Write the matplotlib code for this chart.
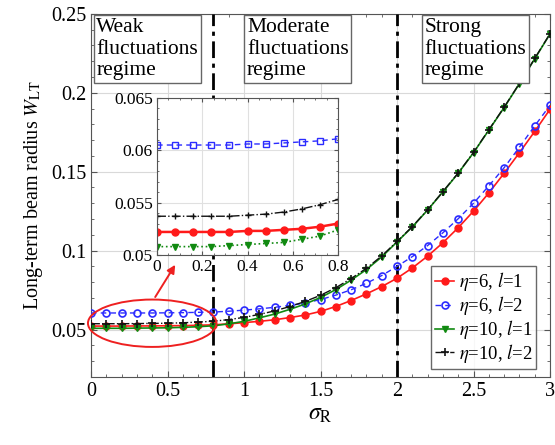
import matplotlib
matplotlib.use("Agg")
import matplotlib.pyplot as plt
from matplotlib.patches import Ellipse
from matplotlib.ticker import MultipleLocator

plt.rcParams['font.family'] = ['Liberation Serif', 'DejaVu Serif']
plt.rcParams['mathtext.fontset'] = 'stix'

# ---------------- data ----------------
sigma = [0.0, 0.1, 0.2, 0.3, 0.4, 0.5, 0.6, 0.7, 0.8, 0.9, 1.0,
         1.1, 1.2, 1.3, 1.4, 1.5, 1.6, 1.7, 1.8, 1.9, 2.0,
         2.1, 2.2, 2.3, 2.4, 2.5, 2.6, 2.7, 2.8, 2.9, 3.0]

w_eta6_l1 = [0.0522, 0.0522, 0.0522, 0.0523, 0.0523, 0.0524, 0.0525, 0.0527, 0.0530, 0.0536, 0.0544,
             0.0552, 0.0562, 0.0576, 0.0592, 0.0615, 0.0646, 0.0684, 0.0726, 0.0772, 0.0825,
             0.0890, 0.0965, 0.1050, 0.1145, 0.1250, 0.1365, 0.1490, 0.1620, 0.1755, 0.1895]
w_eta6_l2 = [0.0605, 0.0605, 0.0605, 0.0605, 0.0605, 0.0606, 0.0607, 0.0609, 0.0611, 0.0616, 0.0623,
             0.0631, 0.0641, 0.0653, 0.0668, 0.0690, 0.0718, 0.0752, 0.0793, 0.0842, 0.0900,
             0.0962, 0.1032, 0.1113, 0.1202, 0.1300, 0.1410, 0.1525, 0.1655, 0.1790, 0.1920]
w_eta10_l1 = [0.0508, 0.0508, 0.0508, 0.0509, 0.0510, 0.0511, 0.0514, 0.0518, 0.0524, 0.0536, 0.0552,
              0.0574, 0.0598, 0.0628, 0.0662, 0.0703, 0.0753, 0.0813, 0.0880, 0.0960, 0.1055,
              0.1150, 0.1257, 0.1372, 0.1490, 0.1620, 0.1763, 0.1906, 0.2057, 0.2215, 0.2372]
w_eta10_l2 = [0.0537, 0.0537, 0.0537, 0.0538, 0.0539, 0.0540, 0.0543, 0.0547, 0.0553, 0.0563, 0.0577,
              0.0596, 0.0618, 0.0646, 0.0678, 0.0717, 0.0765, 0.0823, 0.0888, 0.0966, 0.1058,
              0.1152, 0.1259, 0.1374, 0.1492, 0.1622, 0.1765, 0.1908, 0.2059, 0.2217, 0.2374]

# inset data
sigma_in = [0.0, 0.08, 0.16, 0.24, 0.32, 0.40, 0.48, 0.56, 0.64, 0.72, 0.80]
in_eta6_l1 = [0.0522, 0.0522, 0.0522, 0.0522, 0.0522, 0.0523, 0.0523, 0.0524, 0.0525, 0.0527, 0.0530]
in_eta6_l2 = [0.0605, 0.0605, 0.0605, 0.0605, 0.0605, 0.0606, 0.0606, 0.0607, 0.0608, 0.0609, 0.0611]
in_eta10_l1 = [0.0508, 0.0508, 0.0508, 0.0508, 0.0509, 0.0510, 0.0511, 0.0512, 0.0515, 0.0518, 0.0524]
in_eta10_l2 = [0.0537, 0.0537, 0.0537, 0.0537, 0.0537, 0.0538, 0.0539, 0.0541, 0.0544, 0.0548, 0.0553]

labels = [r'$\eta$=6, $l$=1', r'$\eta$=6, $l$=2', r'$\eta$=10, $l$=1', r'$\eta$=10, $l$=2']

x_ticks = [0, 0.5, 1, 1.5, 2, 2.5, 3]
x_ticklabels = ['0', '0.5', '1', '1.5', '2', '2.5', '3']
y_ticks = [0.05, 0.1, 0.15, 0.2, 0.25]
y_ticklabels = ['0.05', '0.1', '0.15', '0.2', '0.25']
in_x_ticks = [0, 0.2, 0.4, 0.6, 0.8]
in_x_ticklabels = ['0', '0.2', '0.4', '0.6', '0.8']
in_y_ticks = [0.05, 0.055, 0.06, 0.065]
in_y_ticklabels = ['0.05', '0.055', '0.06', '0.065']

regime_text = ['Weak\nfluctuations\nregime', 'Moderate\nfluctuations\nregime', 'Strong\nfluctuations\nregime']
regime_x = [0.035, 1.02, 2.18]
boundaries = [0.8, 2.0]

# ---------------- figure ----------------
fig = plt.figure(figsize=(5.55, 4.45), dpi=100)
ax = fig.add_axes([0.164, 0.153, 0.827, 0.816])

spine_c = '#555555'
red, blue, green, black = '#ff1a1a', '#2b2bff', '#118a11', '#111111'

ax.plot(sigma, w_eta6_l1, '-', color=red, lw=1.2, marker='o', ms=5, label=labels[0], zorder=5)
ax.plot(sigma, w_eta6_l2, '--', color=blue, lw=1.0, marker='o', ms=5, mfc='none', mew=1.2,
        dashes=(4, 3), label=labels[1], zorder=5)
ax.plot(sigma, w_eta10_l1, '-', color=green, lw=1.2, marker='v', ms=5, label=labels[2], zorder=5)
ax.plot(sigma, w_eta10_l2, '-.', color=black, lw=1.0, marker='+', ms=6, mew=1.2, label=labels[3], zorder=5)

for b in boundaries:
    ax.axvline(b, color='black', ls=(0, (6, 2, 1.5, 2)), lw=2.0, zorder=4)

ax.set_xlim(0, 3)
ax.set_ylim(0.02, 0.25)
ax.set_xticks(x_ticks)
ax.set_xticklabels(x_ticklabels)
ax.set_yticks(y_ticks)
ax.set_yticklabels(y_ticklabels)
ax.xaxis.set_minor_locator(MultipleLocator(0.1))
ax.yaxis.set_minor_locator(MultipleLocator(0.01))
ax.tick_params(which='both', direction='in', top=True, right=True, color=spine_c, labelsize=14.5)
ax.tick_params(which='major', length=4)
ax.tick_params(which='minor', length=2.5)
ax.grid(True, which='major', color='#d9d9d9', lw=0.8)
for s in ax.spines.values():
    s.set_color(spine_c)

ax.set_xlabel(r'$\sigma_{\rm R}$', fontsize=17, labelpad=2)
ax.set_ylabel(r'Long-term beam radius $W_{\rm LT}$', fontsize=14.5, labelpad=4)

for t, xp in zip(regime_text, regime_x):
    ax.text(xp, 0.2475, t, ha='left', va='top', fontsize=15.5, linespacing=1.2,
            bbox=dict(boxstyle='square,pad=0.12', fc='white', ec='#666666', lw=1.0), zorder=6)

leg = ax.legend(loc='lower right', bbox_to_anchor=(0.978, 0.012), fontsize=13.5, frameon=True,
                fancybox=False, edgecolor='#444444', handlelength=1.0, handletextpad=0.25,
                borderpad=0.2, labelspacing=0.05, borderaxespad=0.2)
leg.get_frame().set_linewidth(1.0)
leg.set_zorder(10)

# ellipse + arrow
ell = Ellipse((0.40, 0.0540), 0.84, 0.030, fill=False, ec='#ee2020', lw=1.4, clip_on=False, zorder=7)
ax.add_patch(ell)
ax.annotate('', xy=(0.56, 0.0925), xytext=(0.41, 0.0691),
            arrowprops=dict(arrowstyle='-|>', color='#ee2020', lw=1.4, mutation_scale=12), zorder=7)

# inset
axi = fig.add_axes([0.283, 0.427, 0.326, 0.353])
axi.set_zorder(8)
axi.plot(sigma_in, in_eta6_l1, '-', color=red, lw=1.8, marker='o', ms=5)
axi.plot(sigma_in, in_eta6_l2, '--', color=blue, lw=1.0, marker='s', ms=4, mfc='none', mew=1.0, dashes=(4, 3))
axi.plot(sigma_in, in_eta10_l1, ':', color=green, lw=1.2, marker='v', ms=5)
axi.plot(sigma_in, in_eta10_l2, '-.', color=black, lw=1.0, marker='+', ms=5, mew=1.0)
axi.set_xlim(0, 0.8)
axi.set_ylim(0.05, 0.065)
axi.set_xticks(in_x_ticks)
axi.set_xticklabels(in_x_ticklabels)
axi.set_yticks(in_y_ticks)
axi.set_yticklabels(in_y_ticklabels)
axi.xaxis.set_minor_locator(MultipleLocator(0.05))
axi.yaxis.set_minor_locator(MultipleLocator(0.001))
axi.tick_params(which='both', direction='in', top=True, right=True, color=spine_c, labelsize=12.5, pad=3)
axi.tick_params(which='major', length=3)
axi.tick_params(which='minor', length=1.5)
axi.grid(True, which='major', color='#e0e0e0', lw=0.8)
for s in axi.spines.values():
    s.set_color(spine_c)

fig.savefig('out.png', dpi=100)
